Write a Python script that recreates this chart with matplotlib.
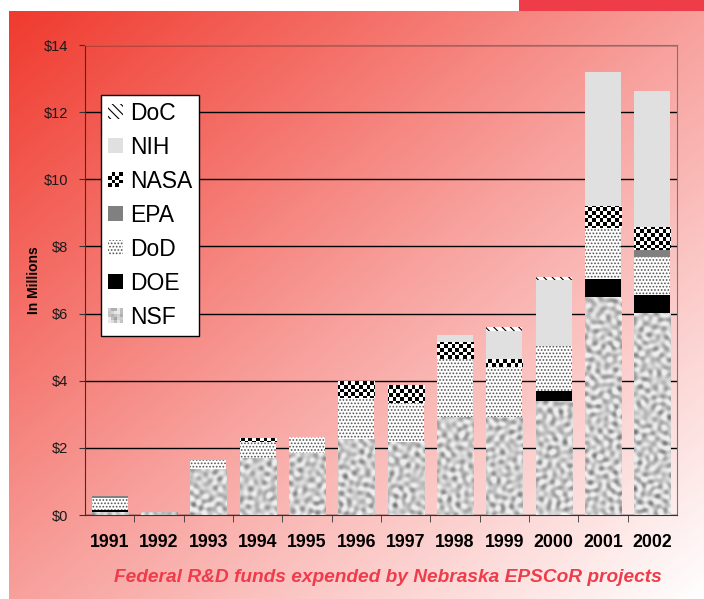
import numpy as np
import matplotlib
matplotlib.use("Agg")
import matplotlib.pyplot as plt
from matplotlib.patches import Rectangle, Patch
from matplotlib.legend_handler import HandlerBase

plt.rcParams['font.family'] = ['Liberation Sans', 'DejaVu Sans']
plt.rcParams['hatch.linewidth'] = 0.8

# 데이터 (백만 달러)
years = ['1991', '1992', '1993', '1994', '1995', '1996',
         '1997', '1998', '1999', '2000', '2001', '2002']
nsf = [0.08, 0.09, 1.37, 1.70, 1.85, 2.26, 2.17, 2.93, 2.93, 3.40, 6.49, 6.03]
doe = [0.06, 0, 0, 0, 0, 0, 0, 0, 0, 0.29, 0.54, 0.52]
dod = [0.36, 0, 0.27, 0.48, 0.47, 1.22, 1.18, 1.71, 1.49, 1.34, 1.51, 1.15]
epa = [0.06, 0, 0, 0, 0, 0, 0, 0, 0, 0, 0, 0.19]
nasa = [0, 0, 0, 0.12, 0, 0.51, 0.52, 0.51, 0.22, 0, 0.67, 0.70]
nih = [0, 0, 0, 0, 0, 0, 0, 0.21, 0.85, 1.97, 3.99, 4.04]
doc = [0, 0, 0, 0, 0, 0, 0, 0, 0.10, 0.08, 0, 0]

W, H = 704, 599
fig = plt.figure(figsize=(W / 100, H / 100), dpi=100)

# 배경 그라데이션
yy, xx = np.mgrid[0:H, 0:W]
t = ((xx - 9) / (W - 9) + (yy - 11) / (H - 11)) / 2
t = np.clip(t, 0, 1)
c0 = np.array([240, 58, 46]) / 255
c1 = np.array([248, 160, 156]) / 255
c2 = np.array([255, 255, 255]) / 255
t3 = t[..., None]
grad = np.where(t3 < 0.5, c0 + (c1 - c0) * (t3 / 0.5), c1 + (c2 - c1) * ((t3 - 0.5) / 0.5))
bg = np.ones((H, W, 3))
bg[11:, 9:] = grad[11:, 9:]
bg[:11, 519:] = np.array([238, 60, 72]) / 255
bgax = fig.add_axes([0, 0, 1, 1], zorder=-10)
bgax.imshow(bg, aspect='auto', interpolation='bilinear')
bgax.axis('off')

ax = fig.add_axes([85 / W, 1 - 515 / H, 592 / W, 470 / H])
ax.patch.set_alpha(0)
x = np.arange(len(years))
bw = 0.73

# NSF 질감 (화강암 느낌), NASA 체크무늬
ty, tx = np.mgrid[0:470, 0:592].astype(float)
tex = np.zeros_like(tx)
for k in range(9):
    ang = k * np.pi / 9 + 0.2
    fr = 0.55 + 0.12 * (k % 3)
    u = tx * np.cos(ang) + ty * np.sin(ang)
    v = -tx * np.sin(ang) + ty * np.cos(ang)
    tex += np.sin(fr * u + 1.7 * np.sin(0.23 * v + k) + k * 1.3)
tex = (tex - tex.min()) / (tex.max() - tex.min())
tex = np.clip(0.4 + 0.75 * tex, 0, 0.93)
ci, cj = np.mgrid[0:127, 0:160]
checker = ((ci + cj) % 2).astype(float)
ext = (-0.5, len(years) - 0.5, 0, 14)

series = [
    ('NSF', nsf, dict(color='#a8a8a8')),
    ('DOE', doe, dict(color='black')),
    ('DoD', dod, dict(facecolor='white', edgecolor='#555555', hatch='.....')),
    ('EPA', epa, dict(color='#808080')),
    ('NASA', nasa, dict(color='white')),
    ('NIH', nih, dict(color='#e0e0e0')),
    ('DoC', doc, dict(facecolor='white', edgecolor='black', hatch='\\\\\\\\')),
]

bottom = np.zeros(len(years))
for name, vals, style in series:
    vals = np.array(vals)
    bars = ax.bar(x, vals, bw, bottom=bottom, linewidth=0, zorder=2, **style)
    if name in ('NSF', 'NASA'):
        for b, v in zip(bars, vals):
            if v <= 0:
                continue
            if name == 'NSF':
                im = ax.imshow(tex, cmap='gray', vmin=0, vmax=1, extent=ext,
                               aspect='auto', interpolation='bilinear', zorder=3)
            else:
                im = ax.imshow(checker, cmap='gray', vmin=0, vmax=1, extent=ext,
                               aspect='auto', interpolation='nearest', zorder=3)
            im.set_clip_path(b)
    bottom += vals

ax.set_xlim(-0.5, len(years) - 0.5)
ax.set_ylim(0, 14)

# 축 스타일
ax.set_yticks(range(0, 15, 2))
ax.set_yticklabels(['${}'.format(v) for v in range(0, 15, 2)],
                   fontsize=10.5, family=['Liberation Sans Narrow', 'Liberation Sans'], color='#1a1a1a')
ax.set_xticks(x)
ax.set_xticklabels(years, fontsize=12.8, fontweight='bold')
ax.set_xticks(np.arange(0.5, len(years) - 0.5, 1), minor=True)
ax.tick_params(axis='x', which='major', length=0, pad=14)
ax.tick_params(axis='x', which='minor', length=5, direction='out', color='#333333')
ax.tick_params(axis='y', length=4, direction='out', color='#333333', pad=8)
ax.grid(axis='y', color='black', linewidth=1, zorder=1)
ax.set_axisbelow(True)
ax.spines['left'].set_color('#333333')
ax.spines['bottom'].set_color('#333333')
ax.spines['top'].set_color('#777777')
ax.spines['right'].set_color('#777777')
ax.set_ylabel('In Millions', fontsize=10, fontweight='bold')
ax.yaxis.set_label_coords((41 - 85) / 592, 0.5)


# 범례 (체크무늬/질감 표시용 핸들러)
class GridHandler(HandlerBase):
    def __init__(self, cells):
        super().__init__()
        self.cells = cells

    def create_artists(self, legend, orig_handle, xdescent, ydescent, width, height, fontsize, trans):
        n = self.cells.shape[0]
        arts = []
        for i in range(n):
            for j in range(n):
                g = self.cells[i, j]
                arts.append(Rectangle((-xdescent + j * width / n, -ydescent + i * height / n),
                                      width / n, height / n, facecolor=(g, g, g),
                                      linewidth=0, transform=trans))
        return arts


h_doc = Patch(facecolor='white', edgecolor='black', hatch='\\\\\\\\', linewidth=0)
h_nih = Patch(facecolor='#e0e0e0', linewidth=0)
h_nasa = Patch(facecolor='white')
h_epa = Patch(facecolor='#808080', linewidth=0)
h_dod = Patch(facecolor='white', edgecolor='#555555', hatch='.....', linewidth=0)
h_doe = Patch(facecolor='black', linewidth=0)
h_nsf = Patch(facecolor='#a8a8a8')
nasa_cells = ((np.add.outer(np.arange(4), np.arange(4))) % 2).astype(float)
nsf_cells = tex[3:3 + 15:3, 3:3 + 15:3]

leg = ax.legend([h_doc, h_nih, h_nasa, h_epa, h_dod, h_doe, h_nsf],
                ['DoC', 'NIH', 'NASA', 'EPA', 'DoD', 'DOE', 'NSF'],
                handler_map={h_nasa: GridHandler(nasa_cells), h_nsf: GridHandler(nsf_cells)},
                loc='upper left', bbox_to_anchor=(0.027, 0.894), borderaxespad=0,
                fontsize=16.5, handlelength=0.65, handleheight=0.65, handletextpad=0.3,
                labelspacing=0.48, borderpad=0.3, fancybox=False, framealpha=1,
                facecolor='white', edgecolor='black')
leg.get_frame().set_linewidth(1)
leg.set_zorder(5)

fig.text(388 / W, 1 - 578 / H, 'Federal R&D funds expended by Nebraska EPSCoR projects',
         ha='center', va='center', fontsize=13.8, fontweight='bold', fontstyle='italic',
         color='#ee3c4b')

fig.savefig('out.png', dpi=100)
